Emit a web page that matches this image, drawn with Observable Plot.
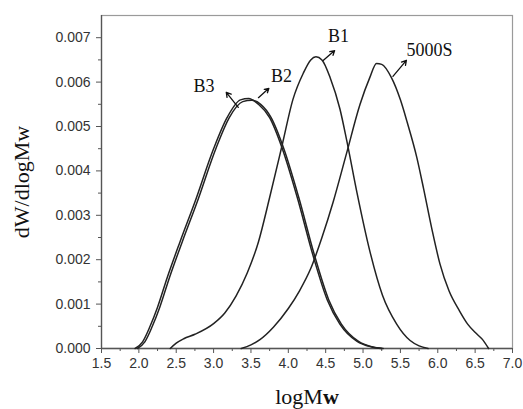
<!DOCTYPE html>
<html>
<head>
<meta charset="utf-8">
<script src="https://cdn.jsdelivr.net/npm/d3@7"></script>
<script src="https://cdn.jsdelivr.net/npm/@observablehq/plot@0.6"></script>
<style>
  html, body { margin: 0; padding: 0; background: #fff; }
  #chart svg { display: block; }
</style>
</head>
<body>
<div id="chart"></div>
<script>
// ---- data ----
const b3X = [1.95, 2.05, 2.15, 2.25, 2.38, 2.55, 2.75, 3.0, 3.18, 3.36, 3.47, 3.6, 3.75, 3.92, 4.12, 4.33, 4.52, 4.69, 4.92, 5.1, 5.25];
const b3Y = [0, 0.00015, 0.0005, 0.00093, 0.0016, 0.0024, 0.0033, 0.0045, 0.0052, 0.0056, 0.00563, 0.0055, 0.0052, 0.0045, 0.0034, 0.0021, 0.0011, 0.00055, 0.00016, 0.00004, 0];

const b2X = [1.98, 2.08, 2.18, 2.28, 2.41, 2.58, 2.78, 3.03, 3.21, 3.39, 3.51, 3.63, 3.77, 3.94, 4.14, 4.35, 4.54, 4.71, 4.94, 5.12, 5.27];
const b2Y = [0, 0.00015, 0.0005, 0.00093, 0.0016, 0.0024, 0.0033, 0.0045, 0.0052, 0.00556, 0.00559, 0.0055, 0.0052, 0.0045, 0.0034, 0.0021, 0.0011, 0.00055, 0.00016, 0.00004, 0];

const b1X = [2.42, 2.5, 2.6, 2.75, 3.0, 3.15, 3.3, 3.45, 3.6, 3.75, 3.92, 4.06, 4.2, 4.3, 4.37, 4.45, 4.56, 4.69, 4.78, 4.92, 5.09, 5.26, 5.45, 5.63, 5.75, 5.87];
const b1Y = [0, 0.00012, 0.00022, 0.00032, 0.00056, 0.0008, 0.00118, 0.0017, 0.0024, 0.0034, 0.0046, 0.0056, 0.0062, 0.0065, 0.00657, 0.0065, 0.0061, 0.0054, 0.0047, 0.0035, 0.0022, 0.0012, 0.00055, 0.00018, 0.00006, 0];

const s5000X = [3.37, 3.5, 3.62, 3.8, 4.0, 4.15, 4.3, 4.45, 4.6, 4.78, 4.96, 5.09, 5.18, 5.25, 5.38, 5.5, 5.59, 5.72, 5.81, 5.92, 6.03, 6.15, 6.29, 6.4, 6.52, 6.6, 6.68];
const s5000Y = [0, 0.00008, 0.0002, 0.00048, 0.0009, 0.0013, 0.0018, 0.0025, 0.0033, 0.0044, 0.0055, 0.0061, 0.00642, 0.0064, 0.0061, 0.0056, 0.0051, 0.0043, 0.0036, 0.0027, 0.0019, 0.0013, 0.00085, 0.00055, 0.00033, 0.0002, 0];

const seriesNames = ["B3", "B2", "B1", "5000S"];

// annotation labels (data coordinates) and arrows
const labelText = ["B3", "B2", "B1", "5000S"];
const labelX = [2.87, 3.91, 4.67, 5.89];
const labelY = [0.0059, 0.00613, 0.00703, 0.00671];
const arrowX1 = [3.33, 3.60, 4.47, 5.40];
const arrowY1 = [0.00543, 0.00565, 0.00649, 0.00613];
const arrowX2 = [3.17, 3.74, 4.62, 5.58];
const arrowY2 = [0.00577, 0.00586, 0.00671, 0.00649];

const xMajor = [1.5, 2.0, 2.5, 3.0, 3.5, 4.0, 4.5, 5.0, 5.5, 6.0, 6.5, 7.0];
const xMinor = [1.75, 2.25, 2.75, 3.25, 3.75, 4.25, 4.75, 5.25, 5.75, 6.25, 6.75];
const yMajor = [0, 0.001, 0.002, 0.003, 0.004, 0.005, 0.006, 0.007];
const yMinor = [0.0005, 0.0015, 0.0025, 0.0035, 0.0045, 0.0055, 0.0065];

// ---- build tables ----
const rows = [];
[[b3X, b3Y], [b2X, b2Y], [b1X, b1Y], [s5000X, s5000Y]].forEach(([xs, ys], i) => {
  xs.forEach((x, j) => rows.push({series: seriesNames[i], x, y: ys[j]}));
});
const labels = labelText.map((t, i) => ({t, x: labelX[i], y: labelY[i]}));
const arrows = labelText.map((t, i) => ({x1: arrowX1[i], y1: arrowY1[i], x2: arrowX2[i], y2: arrowY2[i]}));

const chart = Plot.plot({
  width: 523,
  height: 409,
  marginLeft: 101,
  marginRight: 11,
  marginTop: 15,
  marginBottom: 61,
  style: {background: "#fff", color: "#333", fontFamily: "'Liberation Sans', Arial, sans-serif", fontSize: "14px"},
  x: {domain: [1.5, 7.0]},
  y: {domain: [0, 0.0075]},
  marks: [
    Plot.frame({stroke: "#9a9a9a", strokeWidth: 1.2}),
    Plot.ruleX([1.5], {stroke: "#555", strokeWidth: 1.3}),
    Plot.ruleY([0], {stroke: "#555", strokeWidth: 1.3}),
    Plot.axisX({ticks: xMinor, tickSize: 3, text: null, label: null, stroke: "#555"}),
    Plot.axisY({ticks: yMinor, tickSize: 3, text: null, label: null, stroke: "#555"}),
    Plot.axisX({ticks: xMajor, tickSize: 5, tickPadding: 5, tickFormat: d3.format(".1f"),
      stroke: "#555", fill: "#333", label: "logMw", labelAnchor: "center", labelArrow: "none", labelOffset: 55}),
    Plot.axisY({ticks: yMajor, tickSize: 5, tickPadding: 6, tickFormat: d3.format(".3f"),
      stroke: "#555", fill: "#333", label: "dW/dlogMw", labelAnchor: "center", labelArrow: "none", labelOffset: 88}),
    Plot.line(rows, {x: "x", y: "y", z: "series", stroke: "#222", strokeWidth: 1.5, curve: "monotone-x"}),
    Plot.arrow(arrows, {x1: "x1", y1: "y1", x2: "x2", y2: "y2", stroke: "#111", strokeWidth: 1.3, headLength: 6, bend: 0}),
    Plot.text(labels, {x: "x", y: "y", text: "t", fontFamily: "'Liberation Serif', 'Times New Roman', serif", fontSize: 18, fill: "#111"})
  ]
});

// style axis titles: serif, larger, black; bold "w" in logMw
d3.select(chart).selectAll("text").each(function() {
  const t = this.textContent;
  if (t === "logMw" || t === "dW/dlogMw") {
    const s = d3.select(this);
    s.attr("font-family", "'Liberation Serif', 'Times New Roman', serif").attr("font-size", 22).attr("fill", "#111");
    if (t === "logMw") {
      s.text(null);
      s.append("tspan").text("logM");
      s.append("tspan").attr("font-weight", "bold").text("w");
    }
  }
});

document.getElementById("chart").appendChild(chart);
</script>
</body>
</html>
